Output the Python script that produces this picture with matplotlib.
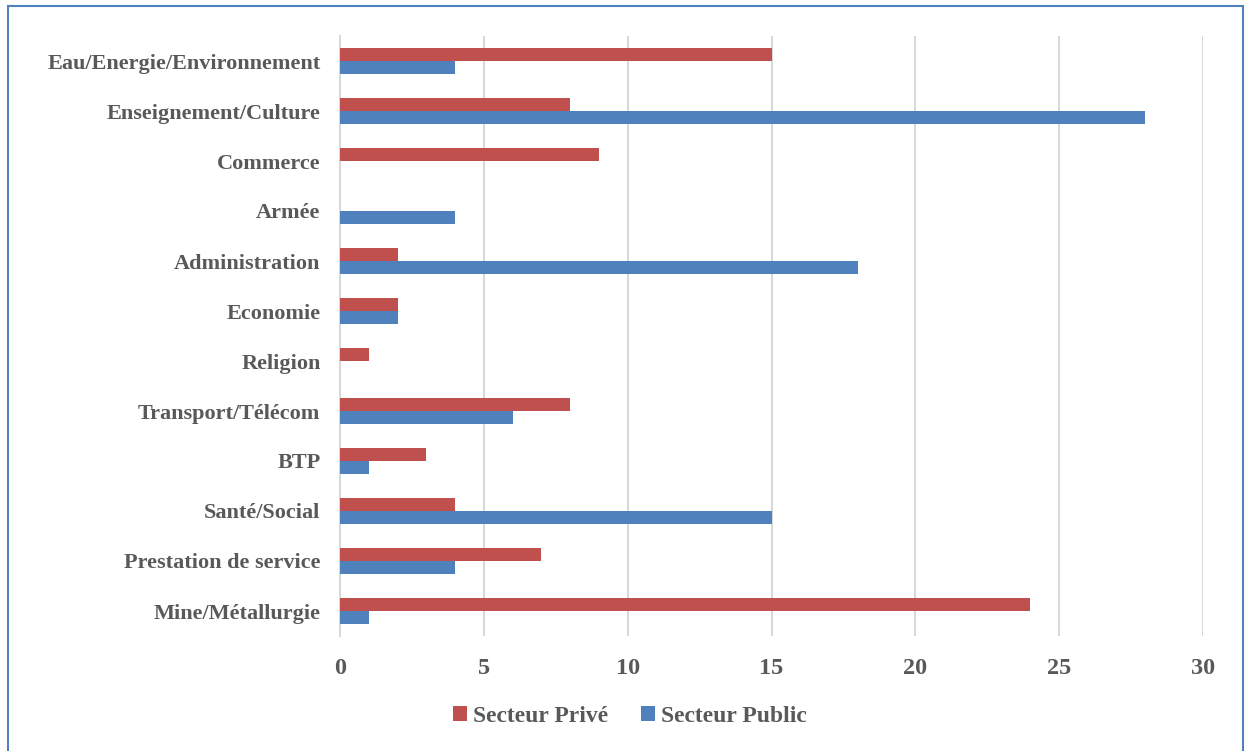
import matplotlib.pyplot as plt
from matplotlib.patches import Rectangle
import numpy as np

categories = [
    "Eau/Energie/Environnement",
    "Enseignement/Culture",
    "Commerce",
    "Armée",
    "Administration",
    "Economie",
    "Religion",
    "Transport/Télécom",
    "BTP",
    "Santé/Social",
    "Prestation de service",
    "Mine/Métallurgie",
]
prive = [15, 8, 9, 0, 2, 2, 1, 8, 3, 4, 7, 24]
public = [4, 28, 0, 4, 18, 2, 0, 6, 1, 15, 4, 1]
x_ticks = [0, 5, 10, 15, 20, 25, 30]

RED = "#C0504D"
BLUE = "#4F81BD"
TEXT = "#595959"
FONT = ["Liberation Serif", "DejaVu Serif"]

plt.rcParams["font.family"] = FONT
plt.rcParams["font.weight"] = "bold"

W, H = 1245, 751
fig = plt.figure(figsize=(W / 100, H / 100), dpi=100)
ax = fig.add_axes([340 / W, 1 - 636 / H, (1203 - 340) / W, 600 / H])

y = np.arange(len(categories))
bh = 0.26
ax.barh(y - bh / 2, prive, height=bh, color=RED, label="Secteur Privé", zorder=3)
ax.barh(y + bh / 2, public, height=bh, color=BLUE, label="Secteur Public", zorder=3)

ax.set_ylim(len(categories) - 0.5, -0.5)
ax.set_xlim(0, 30)
ax.set_xticks(x_ticks)
ax.set_yticks(y)
ax.set_yticklabels(categories)
ax.tick_params(axis="both", length=0, colors=TEXT)
ax.tick_params(axis="y", pad=14, labelsize=16)
ax.tick_params(axis="x", pad=16, labelsize=17.5)
for lbl in ax.get_xticklabels() + ax.get_yticklabels():
    lbl.set_fontweight("bold")

ax.grid(axis="x", color="#D9D9D9", linewidth=1.5, zorder=0)
for s in ["top", "right", "bottom"]:
    ax.spines[s].set_visible(False)
ax.spines["left"].set_color("#D9D9D9")
ax.spines["left"].set_linewidth(1.5)

leg = fig.legend(
    loc="center",
    bbox_to_anchor=(630 / W, 1 - 716 / H),
    ncol=2,
    frameon=False,
    prop={"family": FONT, "weight": "bold", "size": 17},
    handlelength=0.6,
    handleheight=0.6,
    handletextpad=0.25,
    columnspacing=1.4,
)
for t in leg.get_texts():
    t.set_color(TEXT)

# outer frame around the chart
fig.patches.append(
    Rectangle((7.5 / W, -0.05), (1243 - 7.5) / W, 1.05 - 6.5 / H,
              transform=fig.transFigure, fill=False,
              edgecolor=BLUE, linewidth=1.5)
)

fig.savefig("out.png", dpi=100)
